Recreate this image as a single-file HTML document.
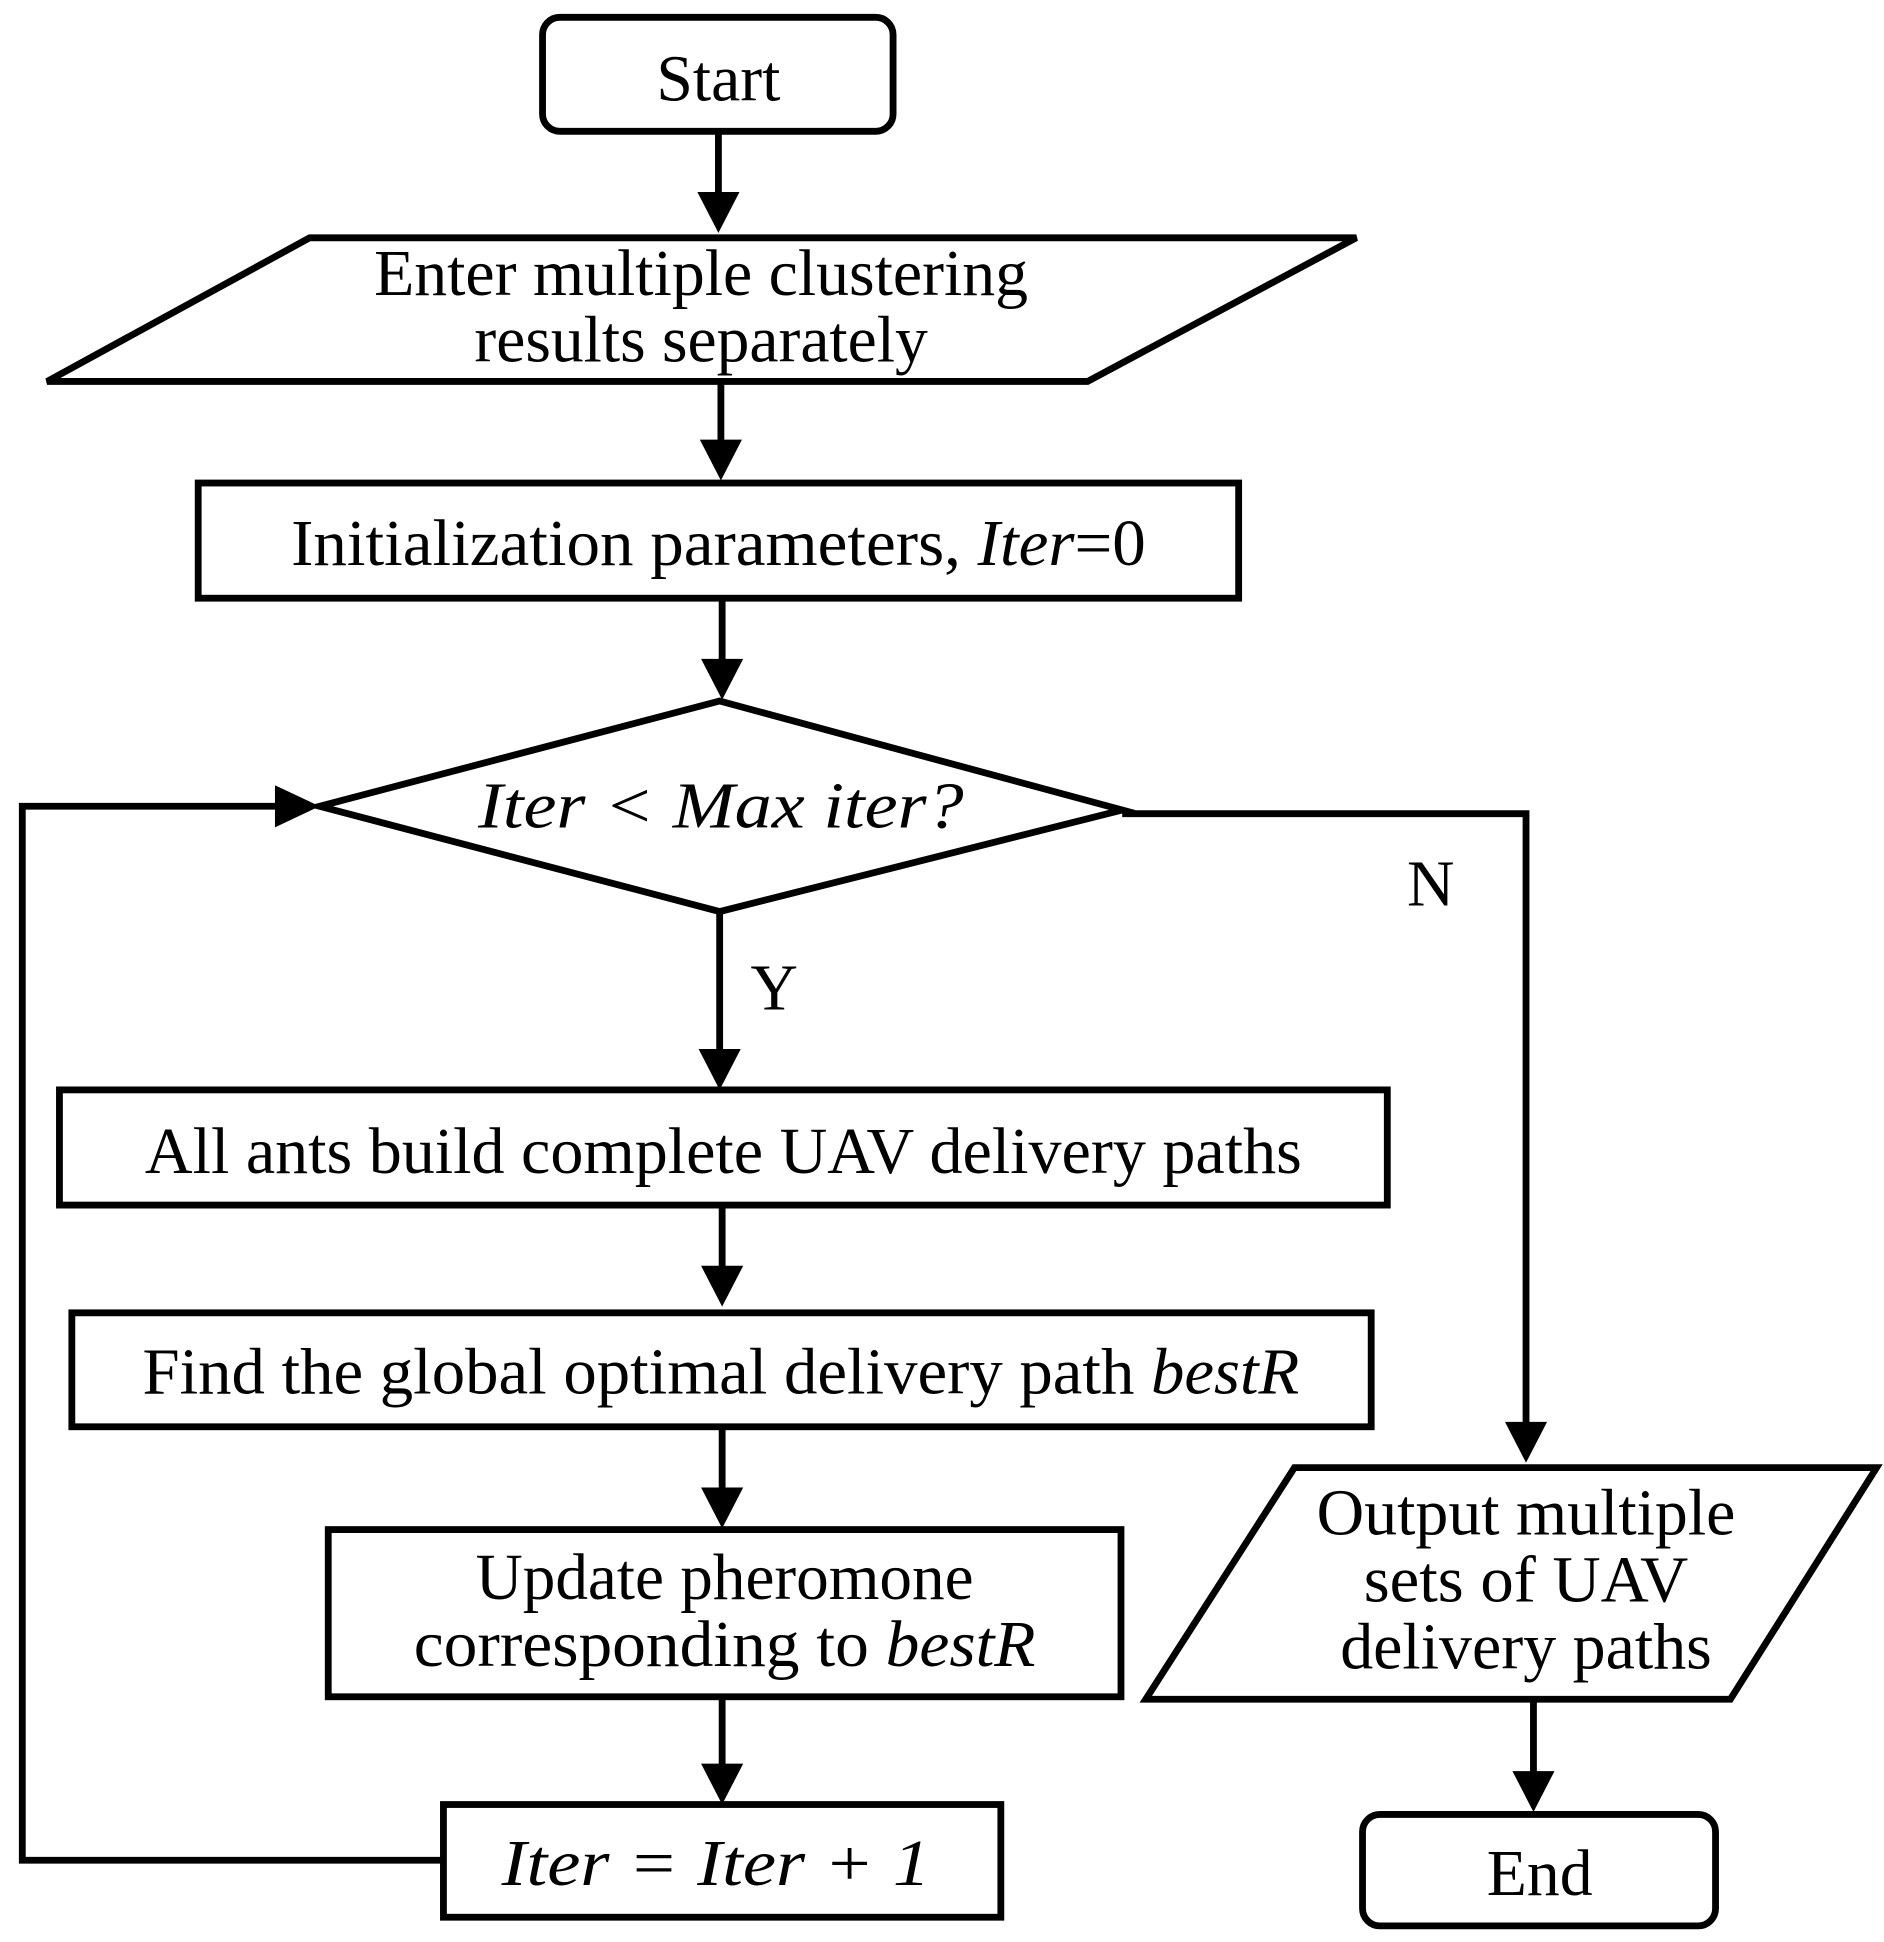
<!DOCTYPE html>
<html><head><meta charset="utf-8"><style>
html,body{margin:0;padding:0;background:#fff;}
svg{display:block;}
text{font-family:"Liberation Serif",serif;font-size:53px;fill:#000;}
.i{font-style:italic;}
</style></head><body>
<svg width="1884" height="1942" viewBox="0 0 1521 1568" preserveAspectRatio="none" xmlns="http://www.w3.org/2000/svg">
<g fill="none" stroke="#000" stroke-width="5.5">
<rect x="438" y="14" width="283" height="92" rx="14"/>
<polygon points="38,308 250,192 1095,192 878,308"/>
<rect x="160" y="390" width="840" height="93"/>
<polygon points="258,651 581,566 906,654 581,736"/>
<rect x="48" y="880" width="1072" height="93"/>
<rect x="58" y="1060" width="1049" height="92"/>
<rect x="265" y="1235" width="640" height="135"/>
<rect x="358" y="1457" width="450" height="91"/>
<polygon points="925,1372 1045,1185 1515,1185 1397,1372"/>
<rect x="1100" y="1465" width="285" height="90" rx="14"/>
<line x1="580" y1="106" x2="580" y2="160"/>
<line x1="582" y1="308" x2="582" y2="360"/>
<line x1="583" y1="483" x2="583" y2="537"/>
<line x1="581" y1="736" x2="581" y2="852"/>
<line x1="583" y1="973" x2="583" y2="1028"/>
<line x1="583" y1="1152" x2="583" y2="1207"/>
<line x1="583" y1="1370" x2="583" y2="1430"/>
<polyline points="906,657 1232,657 1232,1155"/>
<line x1="1238" y1="1372" x2="1238" y2="1435"/>
<polyline points="358,1502 18,1502 18,651 230,651"/>
</g>
<g fill="#000">
<polygon points="563,155 597,155 580,188"/>
<polygon points="565,355 599,355 582,388"/>
<polygon points="566,532 600,532 583,565"/>
<polygon points="564,847 598,847 581,880"/>
<polygon points="566,1022 600,1022 583,1055"/>
<polygon points="566,1201 600,1201 583,1234"/>
<polygon points="566,1424 600,1424 583,1457"/>
<polygon points="1215,1148 1249,1148 1232,1181"/>
<polygon points="1221,1430 1255,1430 1238,1463"/>
<polygon points="222,634 222,668 258,651"/>
</g>
<g text-anchor="middle">
<text x="580" y="81">Start</text>
<text x="566" y="238" textLength="528" lengthAdjust="spacingAndGlyphs">Enter multiple clustering</text>
<text x="566" y="292" textLength="366" lengthAdjust="spacingAndGlyphs">results separately</text>
<text x="580" y="456" textLength="690" lengthAdjust="spacingAndGlyphs">Initialization parameters, <tspan class="i">Iter</tspan>=0</text>
<text x="582" y="668" class="i" textLength="392" lengthAdjust="spacingAndGlyphs">Iter &lt; Max iter?</text>
<text x="1155" y="731">N</text>
<text x="625" y="815">Y</text>
<text x="584" y="947" textLength="934" lengthAdjust="spacingAndGlyphs">All ants build complete UAV delivery paths</text>
<text x="582" y="1125" textLength="934" lengthAdjust="spacingAndGlyphs">Find the global optimal delivery path <tspan class="i">bestR</tspan></text>
<text x="585" y="1291" textLength="402" lengthAdjust="spacingAndGlyphs">Update pheromone</text>
<text x="585" y="1345" textLength="502" lengthAdjust="spacingAndGlyphs">corresponding to <tspan class="i">bestR</tspan></text>
<text x="578" y="1522" class="i" textLength="346" lengthAdjust="spacingAndGlyphs">Iter = Iter + 1</text>
<text x="1232" y="1239" textLength="338" lengthAdjust="spacingAndGlyphs">Output multiple</text>
<text x="1232" y="1293" textLength="262" lengthAdjust="spacingAndGlyphs">sets of UAV</text>
<text x="1232" y="1347" textLength="300" lengthAdjust="spacingAndGlyphs">delivery paths</text>
<text x="1243" y="1530">End</text>
</g>
</svg>
</body></html>
